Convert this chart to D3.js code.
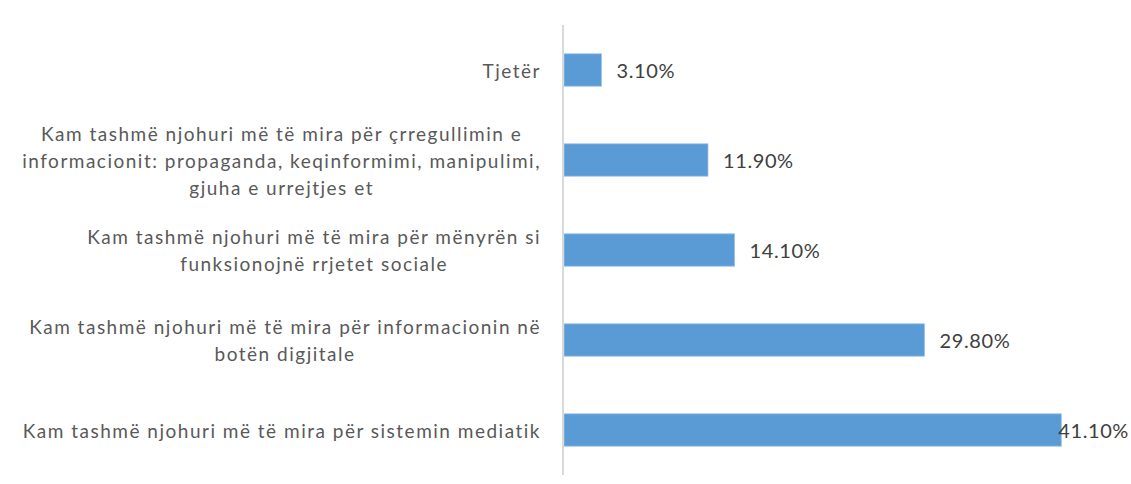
<!DOCTYPE html>
<html>
<head>
<meta charset="utf-8">
<script src="https://cdn.jsdelivr.net/npm/d3@7"></script>
<style>
  body { margin: 0; background: #fff; }
</style>
</head>
<body>
<script>
// categories, top to bottom, already split into the lines they wrap to
const categories = [
  ["Tjetër"],
  ["Kam tashmë njohuri më të mira për çrregullimin e",
   "informacionit: propaganda, keqinformimi, manipulimi,",
   "gjuha e urrejtjes et"],
  ["Kam tashmë njohuri më të mira për mënyrën si",
   "funksionojnë rrjetet sociale"],
  ["Kam tashmë njohuri më të mira për informacionin në",
   "botën digjitale"],
  ["Kam tashmë njohuri më të mira për sistemin mediatik"]
];
const values = [0.031, 0.119, 0.141, 0.298, 0.411];
const valueLabels = ["3.10%", "11.90%", "14.10%", "29.80%", "41.10%"];

const width = 1131, height = 484;
const fontFam = "Lato, 'Open Sans', sans-serif";

const svg = d3.select("body").append("svg")
  .attr("width", width)
  .attr("height", height);

const x = d3.scaleLinear()
  .domain([0, 0.45])
  .range([564, 564 + 0.45 * 1210]);

const y = d3.scaleBand()
  .domain(d3.range(categories.length))
  .range([25, 475])
  .paddingInner(0.64)
  .paddingOuter(0.32);

// bars
svg.selectAll("rect.bar")
  .data(values)
  .enter()
  .append("rect")
  .attr("class", "bar")
  .attr("x", x(0))
  .attr("y", (d, i) => y(i))
  .attr("width", d => x(d) - x(0))
  .attr("height", y.bandwidth())
  .attr("fill", "#5b9bd5")
  .attr("stroke", "#9dc3e6")
  .attr("stroke-width", 0.8);

// vertical axis line
svg.append("line")
  .attr("x1", x(0) - 1)
  .attr("x2", x(0) - 1)
  .attr("y1", 25)
  .attr("y2", 475)
  .attr("stroke", "#d9d9d9")
  .attr("stroke-width", 2);

// category labels: block right-aligned, lines centered inside it
const labelRight = 541;
const lineH = 27;
categories.forEach((lines, i) => {
  const g = svg.append("g");
  const texts = lines.map(t => g.append("text")
    .attr("font-family", fontFam)
    .attr("font-size", "19px")
    .attr("letter-spacing", "1.5px")
    .attr("fill", "#595959")
    .attr("text-anchor", "middle")
    .attr("dominant-baseline", "central")
    .text(t));
  const maxW = d3.max(texts, t => t.node().getComputedTextLength());
  const cx = labelRight - maxW / 2;
  const cy = y(i) + y.bandwidth() / 2;
  texts.forEach((t, k) => {
    t.attr("x", cx)
     .attr("y", cy + (k - (lines.length - 1) / 2) * lineH);
  });
});

// value labels
values.forEach((v, i) => {
  const t = svg.append("text")
    .attr("font-family", fontFam)
    .attr("font-size", "20px")
    .attr("letter-spacing", "0.6px")
    .attr("fill", "#404040")
    .attr("dominant-baseline", "central")
    .attr("y", y(i) + y.bandwidth() / 2)
    .text(valueLabels[i]);
  const w = t.node().getComputedTextLength();
  t.attr("x", Math.min(x(v) + 15, width - 2 - w));
});
</script>
</body>
</html>
